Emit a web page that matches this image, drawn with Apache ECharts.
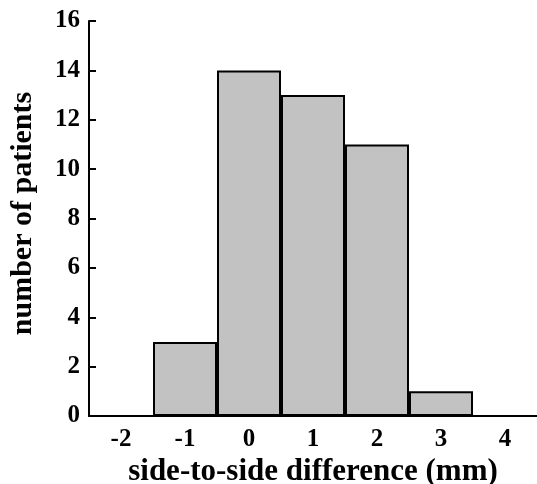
<!DOCTYPE html>
<html>
<head>
<meta charset="utf-8">
<script src="https://cdn.jsdelivr.net/npm/echarts@6/dist/echarts.min.js"></script>
<style>
  html, body { margin: 0; padding: 0; background: #fff; }
  #chart { width: 537px; height: 484px; }
</style>
</head>
<body>
<div id="chart"></div>
<script>
// histogram bins (mm) and patient counts
const bins = ['-2', '-1', '0', '1', '2', '3', '4']
const counts = [0, 3, 14, 13, 11, 1, 0]
const yTicks = { min: 0, max: 16, interval: 2 }

const font = 'Liberation Serif, Times New Roman, serif'
const chart = echarts.init(document.getElementById('chart'))
chart.setOption({
  animation: false,
  grid: { left: 89, right: 0, top: 21, bottom: 68, outerBoundsMode: 'none' },
  xAxis: {
    type: 'category',
    data: bins,
    name: 'side-to-side difference (mm)',
    nameLocation: 'middle',
    nameGap: 38,
    nameTextStyle: { fontFamily: font, fontWeight: 'bold', fontSize: 31, color: '#000' },
    axisLine: { lineStyle: { color: '#000', width: 2 } },
    axisTick: { show: false },
    axisLabel: { fontFamily: font, fontWeight: 'bold', fontSize: 25, color: '#000', margin: 11 }
  },
  yAxis: {
    type: 'value',
    min: yTicks.min,
    max: yTicks.max,
    interval: yTicks.interval,
    name: 'number of patients',
    nameLocation: 'middle',
    nameGap: 51,
    nameTextStyle: {
      fontFamily: font, fontWeight: 'bold', fontSize: 30, color: '#000',
      padding: [0, 0, 0, 10]
    },
    axisLine: { show: true, lineStyle: { color: '#000', width: 2 } },
    axisTick: { show: true, inside: true, length: 7, lineStyle: { color: '#000', width: 2 } },
    axisLabel: { fontFamily: font, fontWeight: 'bold', fontSize: 25, color: '#000', margin: 9 },
    splitLine: { show: false }
  },
  series: [{
    type: 'bar',
    data: counts,
    barCategoryGap: '0%',
    itemStyle: { color: '#c2c2c2', borderColor: '#000', borderWidth: 2 }
  }]
})
</script>
</body>
</html>
